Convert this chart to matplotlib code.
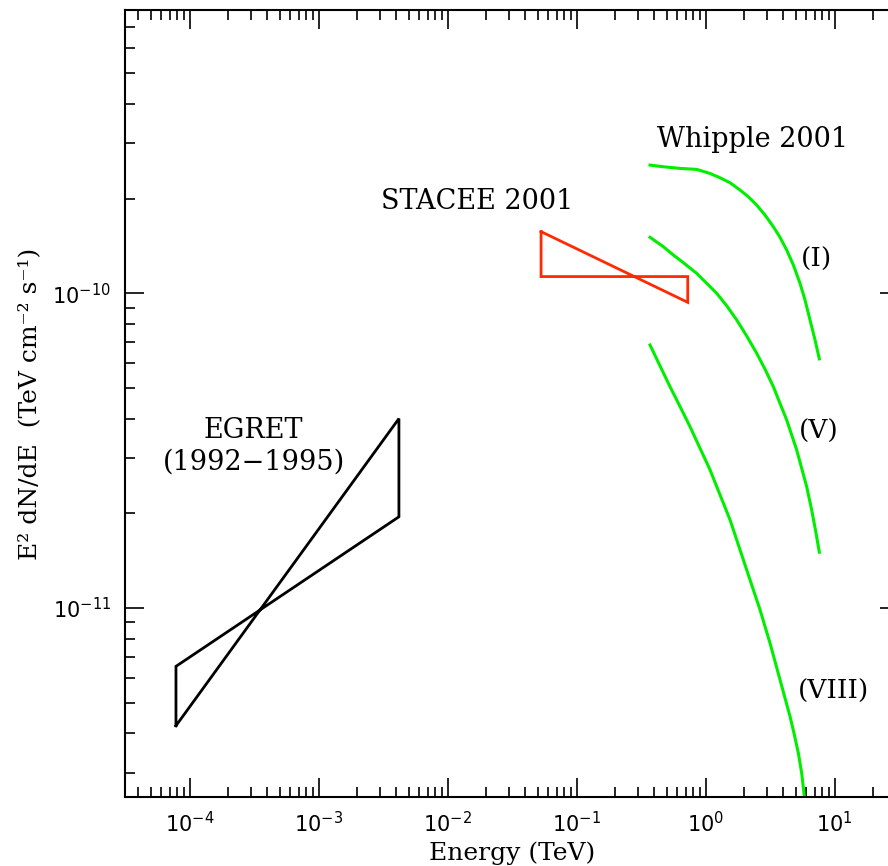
import matplotlib
matplotlib.use("Agg")
import matplotlib.pyplot as plt
from matplotlib.ticker import LogLocator, NullFormatter, FixedLocator

# EGRET bow-tie (1992-1995): energies in TeV, hard and soft edges
egret_e = [7.85e-5, 4.2e-3]
egret_hard = [4.23e-12, 4.0e-11]
egret_soft = [6.53e-12, 1.95e-11]

# STACEE 2001 bow-tie
stacee_e = [0.0531, 0.728]
stacee_steep = [1.57e-10, 9.36e-11]
stacee_flat = [1.13e-10, 1.13e-10]

# Whipple 2001 spectra for three flux states (E in TeV, E^2 dN/dE)
whip1_e = [0.3715, 0.4711, 0.6343, 0.854, 1.0836, 1.2953, 1.5486, 1.8511,
           2.1478, 2.4924, 2.8925, 3.3566, 3.7801, 4.2579, 4.796, 5.4017,
           5.9061, 6.4569, 7.0614, 7.6261]
whip1_f = [2.554e-10, 2.523e-10, 2.493e-10, 2.475e-10, 2.403e-10, 2.328e-10,
           2.245e-10, 2.128e-10, 2.026e-10, 1.907e-10, 1.772e-10, 1.627e-10,
           1.506e-10, 1.372e-10, 1.23e-10, 1.076e-10, 9.52e-11, 8.23e-11,
           7.11e-11, 6.19e-11]

whip5_e = [0.3715, 0.4711, 0.563, 0.6731, 0.854, 1.0209, 1.2203, 1.459,
           1.7445, 2.0847, 2.4924, 2.8925, 3.3566, 3.7801, 4.2579, 4.6548,
           5.0901, 5.5665, 6.0843, 6.6527, 7.1896, 7.6261]
whip5_f = [1.506e-10, 1.406e-10, 1.323e-10, 1.251e-10, 1.157e-10, 1.076e-10,
           1.0e-10, 9.13e-11, 8.23e-11, 7.32e-11, 6.45e-11, 5.74e-11,
           5.05e-11, 4.47e-11, 3.96e-11, 3.55e-11, 3.18e-11, 2.78e-11,
           2.43e-11, 2.05e-11, 1.73e-11, 1.505e-11]

whip8_e = [0.3715, 0.444, 0.5306, 0.6343, 0.7583, 0.9064, 1.0836, 1.2953,
           1.5486, 1.7972, 2.0847, 2.3486, 2.6455, 2.8925, 3.1623, 3.4576,
           3.7801, 4.133, 4.5186, 4.8819, 5.2443, 5.5665, 5.8358, 6.0]
whip8_f = [6.85e-11, 5.88e-11, 5.05e-11, 4.37e-11, 3.77e-11, 3.22e-11,
           2.75e-11, 2.29e-11, 1.908e-11, 1.589e-11, 1.323e-11, 1.143e-11,
           9.88e-12, 8.74e-12, 7.74e-12, 6.77e-12, 5.92e-12, 5.18e-12,
           4.53e-12, 3.96e-12, 3.46e-12, 2.99e-12, 2.52e-12, 2.33e-12]

x_major = [1e-4, 1e-3, 1e-2, 1e-1, 1e0, 1e1]
y_major = [1e-11, 1e-10]

serif = "DejaVu Serif"

def bowtie(e, edge_a, edge_b):
    xs = [e[0], e[1], e[1], e[0], e[0]]
    ys = [edge_a[0], edge_a[1], edge_b[1], edge_b[0], edge_a[0]]
    return xs, ys

fig = plt.figure(figsize=(8.88, 8.66), dpi=100)
# right spine sits just past the figure edge
ax = fig.add_axes([0.1408, 0.0797, 0.8716, 0.9088])
ax.set_xscale("log")
ax.set_yscale("log")
ax.set_xlim(10**-4.5, 10**1.5)
ax.set_ylim(10**-11.6, 10**-9.1)

x, y = bowtie(egret_e, egret_hard, egret_soft)
ax.plot(x, y, color="black", lw=2.0, solid_joinstyle="miter")
x, y = bowtie(stacee_e, stacee_steep, stacee_flat)
ax.plot(x, y, color="#ff2a00", lw=2.0, solid_joinstyle="miter")

green = "#00ee00"
for e, f in [(whip1_e, whip1_f), (whip5_e, whip5_f), (whip8_e, whip8_f)]:
    ax.plot(e, f, color=green, lw=2.2)

txt = dict(family=serif, fontsize=19.5, ha="center", va="center")
ax.text(2.33, 3.07e-10, "Whipple 2001", **txt)
ax.text(0.0171, 1.95e-10, "STACEE 2001", **txt)
ax.text(3.14e-4, 3.27e-11, "EGRET\n(1992\u22121995)", multialignment="center",
        linespacing=1.2, **txt)
txt["fontsize"] = 19
ax.text(7.19, 1.28e-10, "(I)", **txt)
ax.text(7.59, 3.63e-11, "(V)", **txt)
ax.text(9.9, 5.42e-12, "(VIII)", **txt)

ax.set_xlabel("Energy (TeV)", family=serif, fontsize=18, labelpad=4)
ax.set_ylabel("E\u00b2 dN/dE  (TeV cm\u207b\u00b2 s\u207b\u00b9)", family=serif,
              fontsize=18, labelpad=8)

ax.xaxis.set_major_locator(FixedLocator(x_major))
ax.yaxis.set_major_locator(FixedLocator(y_major))
for a in (ax.xaxis, ax.yaxis):
    a.set_minor_locator(LogLocator(base=10, subs=range(2, 10), numticks=20))
    a.set_minor_formatter(NullFormatter())

ax.tick_params(which="both", direction="in", top=True, right=True, width=1.2)
ax.tick_params(which="major", length=14, labelsize=15, pad=10)
ax.tick_params(which="minor", length=7)
for s in ax.spines.values():
    s.set_linewidth(1.5)

fig.savefig("out.png", dpi=100)
